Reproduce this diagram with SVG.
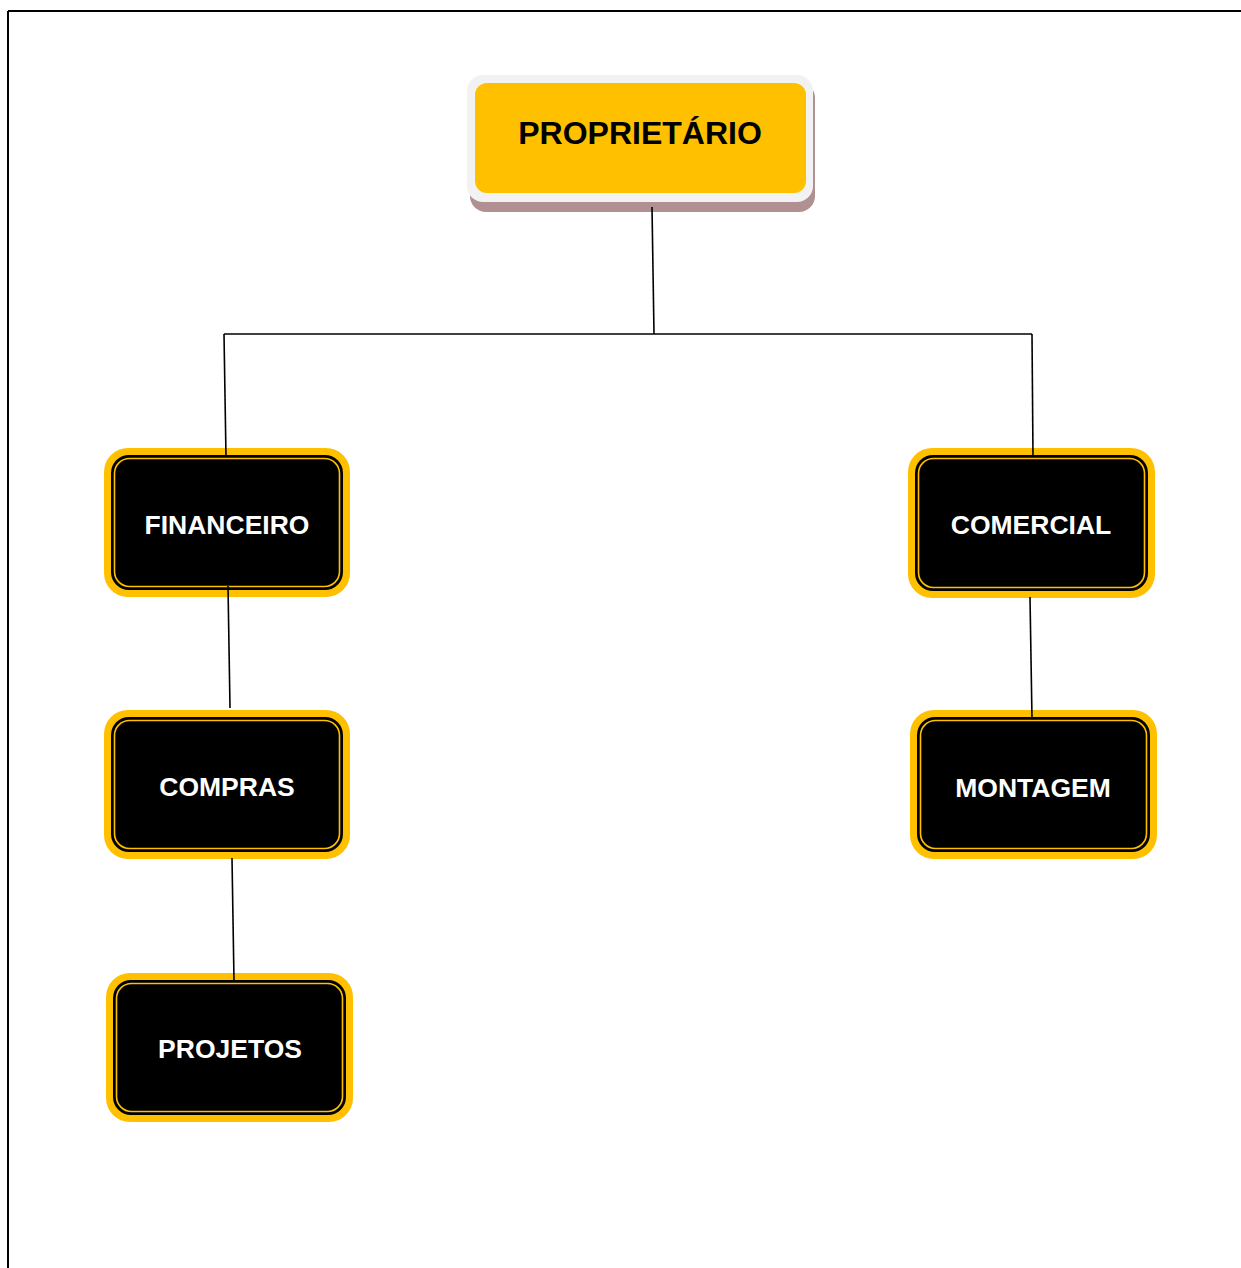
<svg xmlns="http://www.w3.org/2000/svg" width="1241" height="1268" viewBox="0 0 1241 1268">
<style>
.lbl{font-family:"Liberation Sans",Arial,sans-serif;font-weight:bold;text-anchor:middle;dominant-baseline:central}
.w{fill:#FFFFFF;font-size:26.5px}
.outer{fill:#FFC000}
.inner{fill:#000000}
.ring{fill:none;stroke:#FFC000;stroke-width:1.6}
.conn line{stroke:#000;stroke-width:1.6}
</style>
<rect width="1241" height="1268" fill="#fff"/>
<g id="frame">
<line x1="8" y1="11" x2="1241" y2="11" stroke="#000" stroke-width="2"/>
<line x1="8" y1="11" x2="8" y2="1268" stroke="#000" stroke-width="2"/>
</g>
<g id="proprietario">
<rect x="470" y="82" width="345" height="130" rx="16" fill="#B09090"/>
<rect x="467" y="75" width="346" height="127" rx="16" fill="#F2F2F2"/>
<rect x="475" y="83" width="331" height="110" rx="12" fill="#FFC000"/>
<text class="lbl" x="640" y="133" font-size="32" fill="#000">PROPRIETÁRIO</text>
</g>
<g id="financeiro">
<rect class="outer" x="104" y="448" width="246" height="149" rx="24"/>
<rect class="inner" x="111" y="455" width="232" height="135" rx="18"/>
<rect class="ring" x="114.5" y="458.5" width="225" height="128" rx="15"/>
<text class="lbl w" x="227" y="525">FINANCEIRO</text>
</g>
<g id="comercial">
<rect class="outer" x="908" y="448" width="247" height="150" rx="24"/>
<rect class="inner" x="915" y="455" width="233" height="136" rx="18"/>
<rect class="ring" x="918.5" y="458.5" width="226" height="129" rx="15"/>
<text class="lbl w" x="1031" y="525">COMERCIAL</text>
</g>
<g id="compras">
<rect class="outer" x="104" y="710" width="246" height="149" rx="24"/>
<rect class="inner" x="111" y="717" width="232" height="135" rx="18"/>
<rect class="ring" x="114.5" y="720.5" width="225" height="128" rx="15"/>
<text class="lbl w" x="227" y="787">COMPRAS</text>
</g>
<g id="montagem">
<rect class="outer" x="910" y="710" width="247" height="149" rx="24"/>
<rect class="inner" x="917" y="717" width="233" height="135" rx="18"/>
<rect class="ring" x="920.5" y="720.5" width="226" height="128" rx="15"/>
<text class="lbl w" x="1033" y="788">MONTAGEM</text>
</g>
<g id="projetos">
<rect class="outer" x="106" y="973" width="247" height="149" rx="24"/>
<rect class="inner" x="113" y="980" width="233" height="135" rx="18"/>
<rect class="ring" x="116.5" y="983.5" width="226" height="128" rx="15"/>
<text class="lbl w" x="230" y="1049">PROJETOS</text>
</g>
<g id="connectors" class="conn">
<line x1="652" y1="207" x2="654" y2="334"/>
<line x1="224" y1="334" x2="1032" y2="334"/>
<line x1="224" y1="334" x2="226" y2="457"/>
<line x1="1032" y1="334" x2="1033" y2="457"/>
<line x1="228" y1="586" x2="230" y2="708"/>
<line x1="232" y1="858" x2="234" y2="981"/>
<line x1="1030" y1="597" x2="1032" y2="719"/>
</g>
</svg>
